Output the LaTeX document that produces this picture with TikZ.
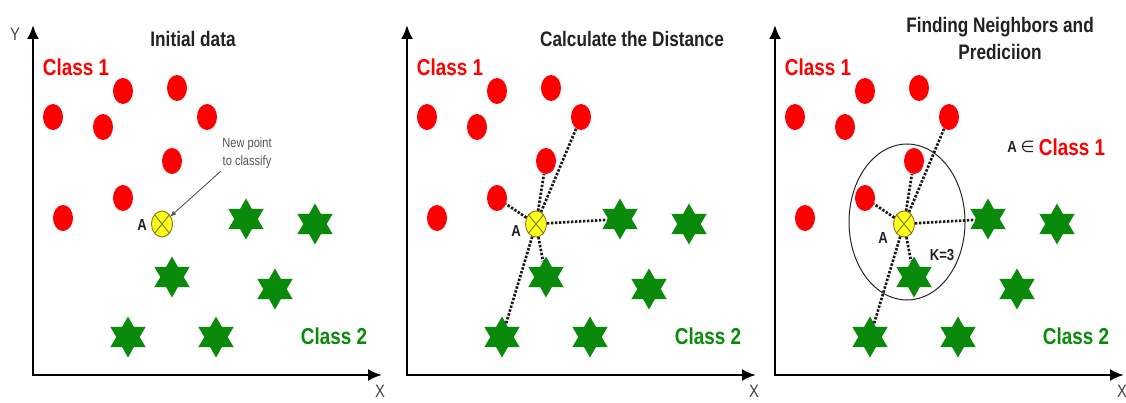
\documentclass[tikz,border=0pt]{standalone}
\usepackage{fontspec}
\setmainfont{Liberation Sans}[FakeStretch=0.82]
\newfontfamily\symfont{DejaVu Sans}
\usetikzlibrary{shapes.geometric,arrows.meta}
\definecolor{kred}{HTML}{FF0000}
\definecolor{kgreen}{HTML}{0A8A0A}
\definecolor{ktitle}{HTML}{222222}
\definecolor{kyellow}{HTML}{FFFF1A}
\definecolor{kring}{HTML}{7A7A20}
\definecolor{kgray}{HTML}{555555}
\begin{document}
\begin{tikzpicture}[x=1pt,y=-1pt,
  redpt/.style={ellipse, fill=kred, minimum width=20pt, minimum height=26pt, inner sep=0pt},
  greenpt/.style={star, star points=6, star point ratio=1.75, fill=kgreen, minimum size=41pt, inner sep=0pt},
  newpt/.style={ellipse, fill=kyellow, draw=kring, line width=0.9pt, minimum width=21pt, minimum height=26pt, inner sep=0pt,
    path picture={\draw[kring, line width=0.9pt] (path picture bounding box.north west) -- (path picture bounding box.south east)
      (path picture bounding box.north east) -- (path picture bounding box.south west);}},
  axis/.style={line width=2.6pt, {Latex[length=14pt,width=12pt]}-{Latex[length=14pt,width=12pt]}},
  dist/.style={line width=2.7pt, dash pattern=on 2.4pt off 1.6pt, black!90},
  titletext/.style={font=\bfseries\fontsize{21}{27}\selectfont, text=ktitle, align=center, inner sep=0pt},
  redtext/.style={font=\bfseries\fontsize{23}{26}\selectfont, text=kred, inner sep=0pt},
  greentext/.style={font=\bfseries\fontsize{23}{26}\selectfont, text=kgreen, inner sep=0pt},
  axtext/.style={font=\fontsize{18}{20}\selectfont, text=ktitle!85, inner sep=0pt},
  alabel/.style={font=\bfseries\fontsize{16}{18}\selectfont, text=ktitle, inner sep=0pt},
  smalltext/.style={font=\fontsize{13.5}{18}\selectfont, text=kgray, align=center, inner sep=0pt},
  ringstyle/.style={ellipse, draw=black!85, line width=1pt, minimum width=116pt, minimum height=156pt, inner sep=0pt}
]
\useasboundingbox (0,0) rectangle (1126,403);
\fill[white] (0,0) rectangle (1126,403);

% neighbourhood ring of panel 3
\node[ringstyle] (ring) at (907,222) {};

\foreach \p/\dx in {1/0,2/374,3/742}{
\begin{scope}[xshift=\dx pt]
  \coordinate (yt\p) at (33,25);
  \coordinate (o\p) at (33,375);
  \coordinate (xe\p) at (382,375);
  \draw[axis] (yt\p) -- (o\p) -- (xe\p);
  \node[axtext] (xl\p) at (380,391) {X};
  \node[redtext] (cl1\p) at (76,67) {Class 1};
  \node[greentext] (cl2\p) at (334,336) {Class 2};
  \node[redpt] (c\p-1) at (123,91) {};
  \node[redpt] (c\p-2) at (177,88) {};
  \node[redpt] (c\p-3) at (53,117) {};
  \node[redpt] (c\p-4) at (103,127) {};
  \node[redpt] (c\p-5) at (207,117) {};
  \node[redpt] (c\p-6) at (172,161) {};
  \node[redpt] (c\p-7) at (123,198) {};
  \node[redpt] (c\p-8) at (63,218) {};
  \node[greenpt] (s\p-1) at (246,219) {};
  \node[greenpt] (s\p-2) at (315,224) {};
  \node[greenpt] (s\p-3) at (172,277) {};
  \node[greenpt] (s\p-4) at (275,289) {};
  \node[greenpt] (s\p-5) at (128,337) {};
  \node[greenpt] (s\p-6) at (216,337) {};
  \node[newpt] (a\p) at (162,224) {};
\end{scope}
}

% axis label Y
\node[axtext] (ylab) at (15,34) {Y};

% titles
\node[titletext] (t1) at (193,39) {Initial data};
\node[titletext] (t2) at (632,39) {Calculate the Distance};
\node[titletext] (t3) at (1000,38) {Finding Neighbors and\\Prediciion};

% panel 1 annotation
\node[alabel] (al1) at (142,225) {A};
\node[smalltext] (np) at (247,153) {New point\\to classify};
\coordinate (npa) at (221,171);
\draw[kgray, line width=0.9pt, -{Latex[length=6pt,width=5pt]}, shorten >=-1pt] (npa) -- (a1);

% panel 2 distances
\node[alabel] (al2) at (516,231) {A};
\foreach \t in {c2-7,c2-6,c2-5,s2-1,s2-3,s2-5}{
  \draw[dist] (a2) -- (\t);
}

% panel 3 neighbours and prediction
\node[alabel] (al3) at (883,238) {A};
\foreach \t in {c3-7,c3-6,c3-5,s3-1,s3-3,s3-5}{
  \draw[dist] (a3) -- (\t);
}
\node[alabel] (k3) at (942,255) {K=3};
\node[alabel] (ain) at (1021,147) {A {\symfont\mdseries ∈}};
\node[redtext] (pred) at (1072,147) {Class 1};
\end{tikzpicture}
\end{document}
